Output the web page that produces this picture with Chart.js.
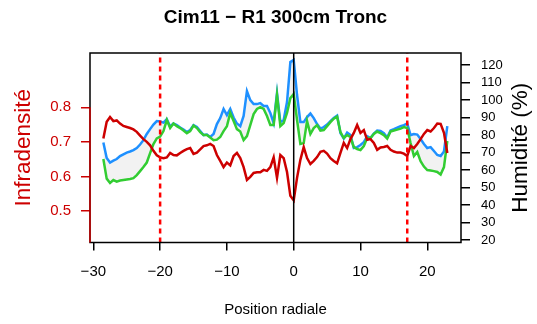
<!DOCTYPE html>
<html>
<head>
<meta charset="utf-8">
<script src="https://cdn.jsdelivr.net/npm/chart.js@4.4.0/dist/chart.umd.min.js"></script>
<style>
  html, body { margin: 0; padding: 0; background: #fff; }
  #wrap { width: 537px; height: 324px; }
</style>
</head>
<body>
<div id="wrap"><canvas id="chart" width="537" height="324"></canvas></div>
<script>
// ---- data ----
const positions = [
  -28.5, -28, -27.5, -27, -26.5, -26, -25.5, -25, -24.5, -24, -23.5, -23, -22.5, -22, -21.5, -21, -20.5, -20,
  -19.5, -19, -18.5, -18, -17.5, -17, -16.5, -16, -15.5, -15, -14.5, -14, -13.5, -13, -12.5, -12, -11.5, -11,
  -10.5, -10, -9.5, -9, -8.5, -8, -7.5, -7, -6.5, -6, -5.5, -5, -4.5, -4, -3.5, -3, -2.5, -2, -1.5, -1, -0.5,
  0, 0.5, 1, 1.5, 2, 2.5, 3, 3.5, 4, 4.5, 5, 5.5, 6, 6.5, 7, 7.5, 8, 8.5, 9, 9.5, 10, 10.5, 11, 11.5, 12,
  12.5, 13, 13.5, 14, 14.5, 15, 15.5, 16, 16.5, 17, 17.5, 18, 18.5, 19, 19.5, 20, 20.5, 21, 21.5, 22, 22.5, 23
];

const infradensite = [
  0.710, 0.758, 0.772, 0.760, 0.762, 0.753, 0.746, 0.743, 0.740, 0.736, 0.729, 0.718, 0.708, 0.700, 0.690, 0.674, 0.661, 0.655,
  0.653, 0.655, 0.668, 0.662, 0.661, 0.668, 0.674, 0.679, 0.682, 0.665, 0.669, 0.678, 0.688, 0.690, 0.694, 0.688, 0.662, 0.645,
  0.627, 0.640, 0.632, 0.659, 0.668, 0.653, 0.627, 0.590, 0.599, 0.610, 0.612, 0.612, 0.619, 0.616, 0.627, 0.655, 0.596, 0.662, 0.653, 0.613, 0.544,
  0.531, 0.596, 0.648, 0.685, 0.653, 0.636, 0.645, 0.656, 0.671, 0.674, 0.666, 0.653, 0.645, 0.638, 0.668, 0.697, 0.682, 0.708, 0.726, 0.749, 0.726, 0.734, 0.706, 0.708, 0.697,
  0.677, 0.684, 0.685, 0.688, 0.677, 0.672, 0.669, 0.669, 0.666, 0.659, 0.688, 0.682, 0.694, 0.708, 0.723, 0.734, 0.730, 0.740, 0.753, 0.752, 0.726, 0.668
];

const humiditeBleu = [
  75.8, 66.9, 64.3, 65.4, 66.3, 68.0, 69.0, 70.0, 70.6, 71.4, 72.6, 74.6, 77.1, 80.6, 83.4, 86.0, 88.0, 87.7,
  87.1, 89.1, 84.9, 86.6, 85.7, 84.3, 83.1, 81.7, 82.9, 85.7, 84.6, 82.3, 80.0, 80.3, 78.9, 80.6, 86.3, 89.7,
  94.9, 91.4, 94.9, 90.0, 86.6, 85.1, 90.9, 105.1, 100.0, 97.7, 97.7, 98.3, 96.6, 96.6, 92.6, 86.9, 104.0, 87.4, 88.6, 98.9, 121.7,
  122.9, 102.9, 87.4, 87.4, 90.3, 92.3, 89.7, 86.3, 83.7, 84.6, 86.0, 88.0, 89.7, 91.1, 81.1, 78.0, 81.4, 80.0, 72.6, 73.1, 74.3, 76.0, 79.4, 78.3, 80.9,
  82.6, 82.3, 81.1, 78.6, 82.6, 83.4, 84.3, 85.1, 85.7, 86.6, 80.0, 80.6, 80.3, 77.7, 74.9, 72.6, 73.1, 70.9, 68.6, 68.0, 70.6, 85.1
];

const humiditeVert = [
  66.3, 55.1, 52.6, 54.3, 53.4, 54.0, 54.3, 54.6, 54.9, 55.4, 57.1, 59.4, 61.7, 64.3, 69.7, 74.9, 78.1, 79.1,
  82.3, 88.6, 84.0, 86.6, 85.1, 84.0, 82.6, 81.1, 82.3, 85.4, 84.0, 81.7, 80.0, 80.0, 78.6, 77.1, 77.4, 78.9,
  82.3, 85.1, 92.6, 88.0, 83.4, 82.0, 77.1, 79.4, 85.7, 92.0, 94.9, 96.0, 94.9, 90.9, 85.7, 85.7, 102.9, 85.1, 86.9, 92.6, 101.1,
  103.4, 88.6, 74.9, 75.4, 88.0, 80.6, 84.0, 85.7, 82.6, 82.9, 85.1, 87.4, 89.4, 90.6, 81.7, 78.3, 80.0, 78.9, 73.1, 72.0, 71.4, 73.7, 78.3, 78.3, 80.6,
  82.0, 81.1, 80.0, 78.0, 82.0, 82.6, 83.1, 83.7, 84.6, 84.0, 75.4, 68.0, 70.3, 65.1, 62.0, 60.0, 59.7, 59.4, 58.9, 57.4, 61.7, 76.6
];

const xTicks = [-30, -20, -10, 0, 10, 20];
const densTicks = [0.5, 0.6, 0.7, 0.8];
const humTicks = [20, 30, 40, 50, 60, 70, 80, 90, 100, 110, 120];
const dottedMarks = [-20, 17];
const centreMarks = [0];

const xRange = [-30.5, 25.05];
const densRange = [0.409, 0.957];
const humRange = [18.6, 126.9];

// ---- styles ----
const FONT = "'Liberation Sans', Arial, Helvetica, sans-serif";
const RED_DARK = '#CD0000';
const RED = '#FF0000';
const BLUE = '#1E90FF';
const GREEN = '#32CD32';
const FILL = '#F2F2F2';
const HUM_LABEL = 'Humidité (%)';

const minus = v => (v < 0 ? '\u2212' + Math.abs(v) : String(v));
const pts = arr => positions.map((x, i) => ({ x: x, y: arr[i] }));
const vline = x => [{ x: x, y: densRange[0] }, { x: x, y: densRange[1] }];

const datasets = [];
dottedMarks.forEach(m => datasets.push({
  data: vline(m), yAxisID: 'yDens', borderColor: RED, borderWidth: 2.5,
  borderDash: [5, 4], pointRadius: 0, fill: false
}));
centreMarks.forEach(m => datasets.push({
  data: vline(m), yAxisID: 'yDens', borderColor: '#000', borderWidth: 1.5,
  pointRadius: 0, fill: false
}));
datasets.push({
  data: pts(infradensite), yAxisID: 'yDens', borderColor: RED_DARK,
  borderWidth: 2.5, pointRadius: 0, fill: false
});
const greenIndex = datasets.length;
datasets.push({
  data: pts(humiditeVert), yAxisID: 'yHum', borderColor: GREEN,
  borderWidth: 2.5, pointRadius: 0, fill: false
});
datasets.push({
  data: pts(humiditeBleu), yAxisID: 'yHum', borderColor: BLUE,
  borderWidth: 2.5, pointRadius: 0,
  fill: { target: greenIndex, above: FILL, below: FILL }, backgroundColor: FILL
});

// plot box, red axis segment and right-hand label (read bottom to top, like R)
const framePlugin = {
  id: 'frame',
  afterDatasetsDraw(chart) {
    const { ctx, chartArea: a } = chart;
    ctx.save();
    ctx.strokeStyle = '#000';
    ctx.lineWidth = 1.5;
    ctx.strokeRect(a.left, a.top, a.right - a.left, a.bottom - a.top);
    const yTop = chart.scales.yDens.getPixelForValue(densTicks[densTicks.length - 1]);
    ctx.strokeStyle = RED_DARK;
    ctx.beginPath();
    ctx.moveTo(a.left, yTop);
    ctx.lineTo(a.left, a.bottom);
    ctx.stroke();
    ctx.restore();
  },
  afterDraw(chart) {
    const { ctx, chartArea: a } = chart;
    ctx.save();
    ctx.translate(chart.width - 16, (a.top + a.bottom) / 2);
    ctx.rotate(-Math.PI / 2);
    ctx.fillStyle = '#000';
    ctx.font = '22.5px ' + FONT;
    ctx.textAlign = 'center';
    ctx.textBaseline = 'middle';
    ctx.fillText(HUM_LABEL, 0, 0);
    ctx.restore();
  }
};

new Chart(document.getElementById('chart'), {
  type: 'line',
  data: { datasets: datasets },
  plugins: [framePlugin],
  options: {
    responsive: false,
    animation: false,
    events: [],
    layout: { padding: 0 },
    plugins: {
      legend: { display: false },
      tooltip: { enabled: false },
      title: {
        display: true, fullSize: false, text: 'Cim11 \u2212 R1 300cm Tronc', color: '#000',
        font: { family: FONT, size: 19, weight: 'bold' },
        padding: { top: 6, bottom: 24.2 }
      }
    },
    scales: {
      x: {
        type: 'linear', position: 'bottom', min: xRange[0], max: xRange[1],
        afterBuildTicks: s => { s.ticks = xTicks.map(v => ({ value: v })); },
        afterFit: s => { s.height = 81.5; },
        border: { display: false },
        grid: { drawOnChartArea: false, drawTicks: true, tickLength: 8, color: '#000', lineWidth: 1.5 },
        ticks: { color: '#000', font: { family: FONT, size: 15 }, padding: 12, maxRotation: 0, autoSkip: false, callback: v => minus(v) },
        title: { display: true, text: 'Position radiale', color: '#000', font: { family: FONT, size: 15 }, padding: { top: 0, bottom: 5 } }
      },
      yDens: {
        type: 'linear', position: 'left', min: densRange[0], max: densRange[1],
        afterBuildTicks: s => { s.ticks = densTicks.map(v => ({ value: v })); },
        afterFit: s => { s.width = 90; },
        border: { display: false },
        grid: { drawOnChartArea: false, drawTicks: true, tickLength: 9, color: RED_DARK, lineWidth: 1.5 },
        ticks: { color: RED_DARK, font: { family: FONT, size: 15 }, padding: 10, autoSkip: false, callback: v => v.toFixed(1) },
        title: { display: true, text: 'Infradensité', color: RED_DARK, font: { family: FONT, size: 22.5 }, padding: { top: 10, bottom: 0 } }
      },
      yHum: {
        type: 'linear', position: 'right', min: humRange[0], max: humRange[1],
        afterBuildTicks: s => { s.ticks = humTicks.map(v => ({ value: v })); },
        afterFit: s => { s.width = 76; },
        border: { display: false },
        grid: { drawOnChartArea: false, drawTicks: true, tickLength: 9, color: '#000', lineWidth: 1.5 },
        ticks: { color: '#000', font: { family: FONT, size: 13 }, padding: 11, autoSkip: false, callback: v => String(v) }
      }
    }
  }
});
</script>
</body>
</html>
